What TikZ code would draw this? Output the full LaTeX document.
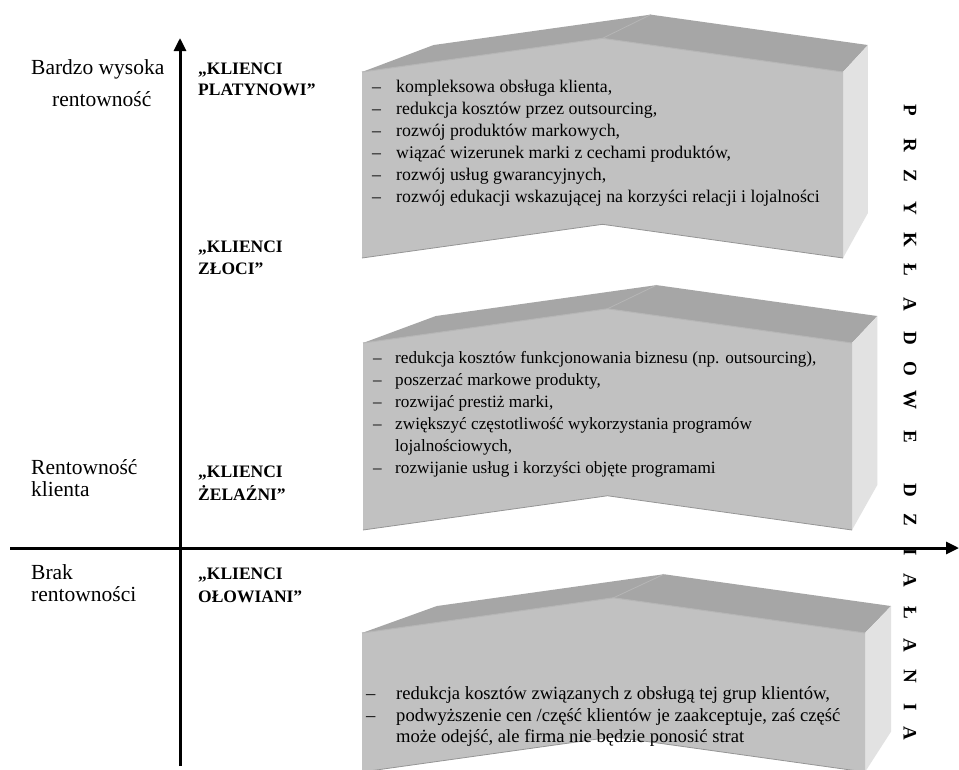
\documentclass[tikz,border=0pt]{standalone}
\usepackage{fontspec}
\setmainfont{Liberation Serif}[BoldFont={Liberation Serif Bold}]
\usetikzlibrary{arrows.meta}
\definecolor{frontgray}{RGB}{193,193,193}
\definecolor{topgray}{RGB}{166,166,166}
\definecolor{sidegray}{RGB}{226,226,226}
\definecolor{seamgray}{RGB}{182,182,182}
\newcommand\chevshape[4]{%
  \pgfmathsetmacro\chvL{#1}%
  \pgfmathsetmacro\chvT{#2}%
  \pgfmathsetmacro\chvR{#3}%
  \pgfmathsetmacro\chvB{#4}%
  \pgfmathsetmacro\chvW{\chvR-\chvL}%
  \pgfmathsetmacro\chvC{(\chvL+\chvR)/2}%
  \pgfmathsetmacro\chvD{0.07*\chvW}%
  \pgfmathsetmacro\chvP{\chvT-\chvD}%
  \pgfmathsetmacro\chvN{\chvB-\chvD}%
  \pgfmathsetmacro\chvVx{\chvL+1.534*\chvW}%
  \pgfmathsetmacro\chvVy{\chvT-278}%
  \pgfmathsetmacro\chvbL{(\chvVx)+0.903*((\chvL)-(\chvVx))}%
  \pgfmathsetmacro\chvbC{(\chvVx)+0.903*((\chvC)-(\chvVx))}%
  \pgfmathsetmacro\chvbR{(\chvVx)+0.903*((\chvR)-(\chvVx))}%
  \pgfmathsetmacro\chvbT{(\chvVy)+0.903*((\chvT)-(\chvVy))}%
  \pgfmathsetmacro\chvbP{(\chvVy)+0.903*((\chvP)-(\chvVy))}%
  \pgfmathsetmacro\chvbB{(\chvVy)+0.903*((\chvB)-(\chvVy))}%
  \fill[topgray] (\chvL,\chvT) -- (\chvC,\chvP) -- (\chvR,\chvT) -- (\chvbR,\chvbT)
     -- (\chvbC,\chvbP) -- (\chvbL,\chvbT) -- cycle;
  \draw[seamgray, line width=0.8pt] (\chvC,\chvP) -- (\chvbC,\chvbP);
  \fill[sidegray] (\chvR,\chvT) -- (\chvbR,\chvbT) -- (\chvbR,\chvbB) -- (\chvR,\chvB) -- cycle;
  \fill[frontgray] (\chvL,\chvT) -- (\chvC,\chvP) -- (\chvR,\chvT) -- (\chvR,\chvB)
     -- (\chvC,\chvN) -- (\chvL,\chvB) -- cycle;
  \draw[seamgray, line width=1pt] (\chvL,\chvT) -- (\chvC,\chvP) -- (\chvR,\chvT);
  \draw[topgray!90!black, line width=0.8pt] (\chvL,\chvB) -- (\chvC,\chvN) -- (\chvR,\chvB);
}
\begin{document}
\begin{tikzpicture}[x=1pt,y=-1pt,
  lsttop/.style={font=\fontsize{17.8}{22}\selectfont, anchor=base west, inner sep=0pt},
  lst/.style={font=\fontsize{17.2}{22}\selectfont, anchor=base west, inner sep=0pt},
  lstb/.style={font=\fontsize{18.6}{22}\selectfont, anchor=base west, inner sep=0pt},
  lbl/.style={font=\fontsize{21.5}{24}\selectfont, anchor=base west, inner sep=0pt},
  klabel/.style={font=\bfseries\fontsize{17.5}{21}\selectfont, anchor=base west, inner sep=0pt},
  axisarrow/.style={line width=3pt, -{Triangle[length=13pt,width=12pt]}},
  vletter/.style={font=\bfseries\fontsize{19}{19}\selectfont, rotate=-90, inner sep=0pt}]
\useasboundingbox (0,0) rectangle (959,769);
\fill[white] (0,0) rectangle (959,769);

% shapes
\chevshape{362}{72}{843}{258}
\chevshape{363}{343}{852}{530}
\chevshape{362}{633}{865}{772}

% axes
\coordinate (vstart) at (180,766);
\coordinate (vend) at (180,38);
\coordinate (hstart) at (10,548);
\coordinate (hend) at (959,548);
\draw[axisarrow] (vstart) -- (vend);
\draw[axisarrow] (hstart) -- (hend);

% left labels
\node[lbl] (l1a) at (31,74) {Bardzo wysoka};
\node[lbl] (l1b) at (52,106) {rentowność};
\node[lbl] (l2a) at (31,474) {Rentowność};
\node[lbl] (l2b) at (31,496) {klienta};
\node[lbl] (l3a) at (31,579) {Brak};
\node[lbl] (l3b) at (31,601) {rentowności};

% bold labels
\node[klabel] (k1a) at (198,74) {„KLIENCI};
\node[klabel] (k1b) at (198,95) {PLATYNOWI”};
\node[klabel] (k2a) at (198,252) {„KLIENCI};
\node[klabel] (k2b) at (198,274) {ZŁOCI”};
\node[klabel] (k3a) at (198,477) {„KLIENCI};
\node[klabel] (k3b) at (198,500) {ŻELAŹNI”};
\node[klabel] (k4a) at (198,579) {„KLIENCI};
\node[klabel] (k4b) at (198,602) {OŁOWIANI”};

% top list
\node[lsttop] (d11) at (372,92) {–};  \node[lsttop] (t11) at (396,92) {kompleksowa obsługa klienta,};
\node[lsttop] (d12) at (372,114) {–}; \node[lsttop] (t12) at (396,114) {redukcja kosztów przez outsourcing,};
\node[lsttop] (d13) at (372,136) {–}; \node[lsttop] (t13) at (396,136) {rozwój produktów markowych,};
\node[lsttop] (d14) at (372,158) {–}; \node[lsttop] (t14) at (396,158) {wiązać wizerunek marki z cechami produktów,};
\node[lsttop] (d15) at (372,180) {–}; \node[lsttop] (t15) at (396,180) {rozwój usług gwarancyjnych,};
\node[lsttop] (d16) at (372,202) {–}; \node[lsttop] (t16) at (396,202) {rozwój edukacji wskazującej na korzyści relacji i lojalności};

% middle list
\node[lst] (d21) at (373,363) {–}; \node[lst] (t21) at (395,363) {redukcja kosztów funkcjonowania biznesu (np. outsourcing),};
\node[lst] (d22) at (373,385) {–}; \node[lst] (t22) at (395,385) {poszerzać markowe produkty,};
\node[lst] (d23) at (373,407) {–}; \node[lst] (t23) at (395,407) {rozwijać prestiż marki,};
\node[lst] (d24) at (373,429) {–}; \node[lst] (t24) at (395,429) {zwiększyć częstotliwość wykorzystania programów};
\node[lst] (t25) at (395,451) {lojalnościowych,};
\node[lst] (d26) at (373,473) {–}; \node[lst] (t26) at (395,473) {rozwijanie usług i korzyści objęte programami};

% bottom list
\node[lstb] (d31) at (366,699) {–}; \node[lstb] (t31) at (396,699) {redukcja kosztów związanych z obsługą tej grup klientów,};
\node[lstb] (d32) at (366,721) {–}; \node[lstb] (t32) at (396,721) {podwyższenie cen /część klientów je zaakceptuje, zaś część};
\node[lstb] (t33) at (396,742) {może odejść, ale firma nie będzie ponosić strat};

% vertical letters
\foreach \ch/\yy [count=\i] in {P/110,R/145,Z/176,Y/208,K/240,Ł/270,A/304,D/338,O/369,W/400,E/437,D/490,Z/520,I/552,A/580,Ł/613,A/645,N/676,I/707,A/733}
  \node[vletter] (v\i) at (910,\yy) {\ch};
\end{tikzpicture}
\end{document}
